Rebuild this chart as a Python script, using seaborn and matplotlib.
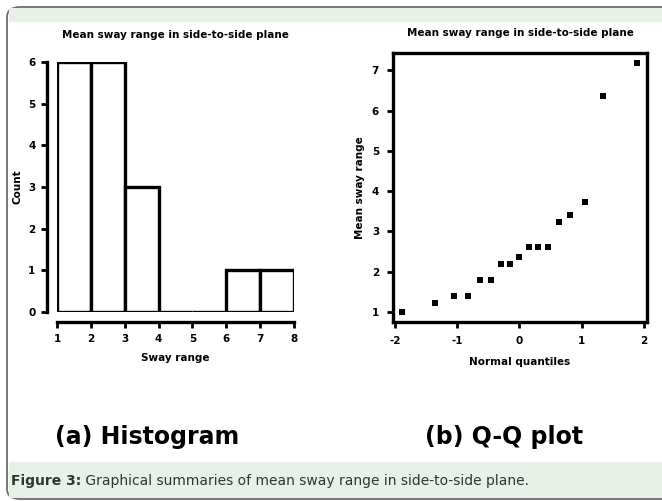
import numpy as np
import pandas as pd
import matplotlib
matplotlib.use("Agg")
import matplotlib.pyplot as plt
from matplotlib.patches import FancyBboxPatch, Rectangle
import seaborn as sns

# ---- data ----
sway = [1.00, 1.22, 1.40, 1.40, 1.79, 1.79, 2.19, 2.19, 2.36,
        2.61, 2.61, 2.61, 3.23, 3.41, 3.73, 6.36, 7.18]
normal_q = [-1.89, -1.35, -1.05, -0.82, -0.63, -0.46, -0.30, -0.15, 0.00,
            0.15, 0.30, 0.46, 0.63, 0.82, 1.05, 1.35, 1.89]
bin_edges = [1, 2, 3, 4, 5, 6, 7, 8]
hist_yticks = [0, 1, 2, 3, 4, 5, 6]
qq_xticks = [-2, -1, 0, 1, 2]
qq_yticks = [1, 2, 3, 4, 5, 6, 7]
title_text = "Mean sway range in side-to-side plane"
hist_xlabel = "Sway range"
hist_ylabel = "Count"
qq_xlabel = "Normal quantiles"
qq_ylabel = "Mean sway range"
sub_a = "(a) Histogram"
sub_b = "(b) Q-Q plot"
caption_bold = "Figure 3:"
caption_rest = " Graphical summaries of mean sway range in side-to-side plane."

df = pd.DataFrame({"sway": sway, "q": normal_q})

sns.set_theme(style="white")
plt.rcParams['font.family'] = ['DejaVu Sans']
plt.rcParams['text.color'] = 'black'
plt.rcParams['axes.labelcolor'] = 'black'

W, H = 662, 501
fig = plt.figure(figsize=(W / 100, H / 100), dpi=100)
fig.patch.set_facecolor("white")

def fx(px):
    return px / W

def fy(py):
    return 1 - py / H

green = "#e8f1e7"
# outer rounded panel
fig.patches.append(FancyBboxPatch((fx(7), fy(499)), fx(700) - fx(7), fy(7) - fy(499),
                                  boxstyle="round,pad=0,rounding_size=0.02",
                                  transform=fig.transFigure, facecolor="white",
                                  edgecolor="#6e6e6e", linewidth=1.3, zorder=-2))
fig.patches.append(Rectangle((fx(8.5), fy(22)), fx(662) - fx(8.5), fy(8.5) - fy(22),
                             transform=fig.transFigure, facecolor=green,
                             edgecolor="none", zorder=-1))
fig.patches.append(Rectangle((fx(8.5), fy(498)), fx(662) - fx(8.5), fy(462) - fy(498),
                             transform=fig.transFigure, facecolor=green,
                             edgecolor="none", zorder=-1))

tick_font = dict(fontsize=7.5, fontweight="bold", color="black")

# ---- histogram ----
ax1 = fig.add_axes([fx(57), fy(312), fx(294) - fx(57), fy(62) - fy(312)])
sns.histplot(data=df, x="sway", bins=bin_edges, stat="count", ax=ax1,
             color="white", edgecolor="black", linewidth=2.4, alpha=1)
ax1.set_xlim(1, 8)
ax1.set_ylim(0, 6)
ax1.set_xticks(bin_edges)
ax1.set_yticks(hist_yticks)
ax1.set_facecolor("none")
sns.despine(ax=ax1, offset=7.5, trim=True)
ax1.set_xticks(bin_edges)
ax1.set_yticks(hist_yticks)
ax1.set_xticklabels([str(v) for v in bin_edges], **tick_font)
ax1.set_yticklabels([str(v) for v in hist_yticks], **tick_font)
for s in ("left", "bottom"):
    ax1.spines[s].set_linewidth(2.4)
    ax1.spines[s].set_color("black")
ax1.tick_params(axis="both", direction="out", length=4, width=2, colors="black", pad=4,
                bottom=True, left=True)
ax1.set_xlabel(hist_xlabel, fontsize=7.5, fontweight="bold", labelpad=7)
ax1.set_ylabel(hist_ylabel, fontsize=7.5, fontweight="bold", labelpad=4)
ax1.set_title(title_text, fontsize=7.5, fontweight="bold", pad=17)

# ---- Q-Q plot ----
ax2 = fig.add_axes([fx(393), fy(322), fx(647) - fx(393), fy(53) - fy(322)])
sns.scatterplot(data=df, x="q", y="sway", ax=ax2, marker="s", s=14,
                color="black", edgecolor="black", linewidth=0)
ax2.set_xlim(-2.03, 2.05)
ax2.set_ylim(0.75, 7.43)
ax2.set_xticks(qq_xticks)
ax2.set_yticks(qq_yticks)
ax2.set_xticklabels([str(v) for v in qq_xticks], **tick_font)
ax2.set_yticklabels([str(v) for v in qq_yticks], **tick_font)
ax2.set_facecolor("none")
for s in ax2.spines.values():
    s.set_visible(True)
    s.set_linewidth(2.4)
    s.set_color("black")
ax2.tick_params(axis="both", direction="out", length=4, width=2, colors="black", pad=6,
                bottom=True, left=True)
ax2.set_xlabel(qq_xlabel, fontsize=7.5, fontweight="bold", labelpad=8)
ax2.set_ylabel(qq_ylabel, fontsize=7.5, fontweight="bold", labelpad=5)
ax2.set_title(title_text, fontsize=7.5, fontweight="bold", pad=12)

# ---- sub captions ----
fig.text(fx(55), fy(437), sub_a, fontsize=17, fontweight="bold", color="black",
         ha="left", va="center")
fig.text(fx(425), fy(437), sub_b, fontsize=17, fontweight="bold", color="black",
         ha="left", va="center")

# ---- figure caption ----
t = fig.text(fx(11), fy(481), caption_bold, fontsize=10, fontweight="bold",
             color="#333333", ha="left", va="center")
fig.canvas.draw()
bb = t.get_window_extent()
fig.text(bb.x1 / W, fy(481), caption_rest, fontsize=10, color="#333333",
         ha="left", va="center")

fig.savefig("out.png", dpi=100)
